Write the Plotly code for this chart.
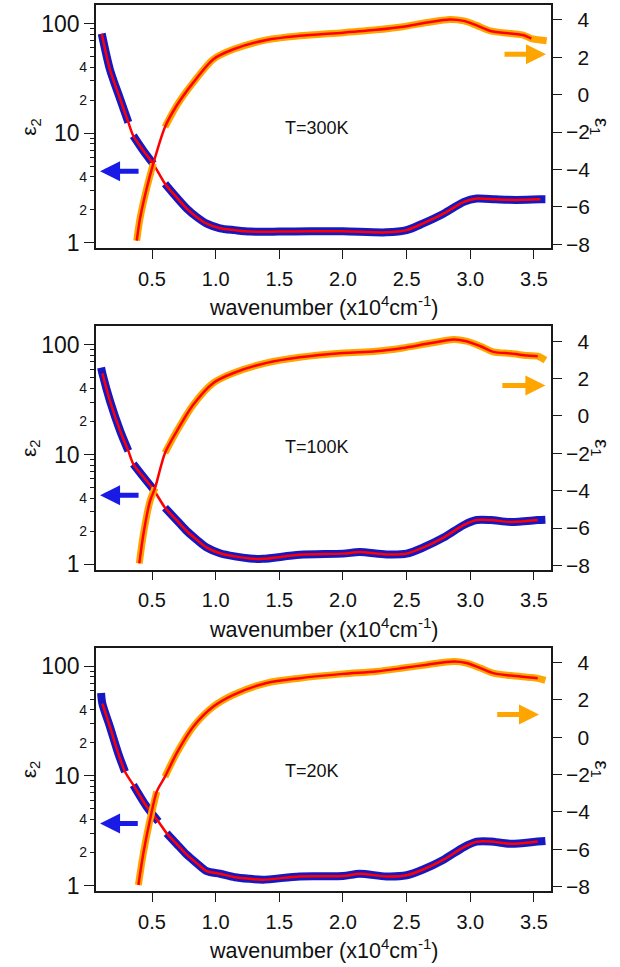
import math
import plotly.graph_objects as go

# ---------------------------------------------------------------------------
# Optical spectra: eps2 (left, log) and eps1 (right, linear) vs wavenumber
# wavenumber in units of 10^4 cm^-1
# ---------------------------------------------------------------------------

# T = 300 K
WN_E2_300 = [0.105, 0.17, 0.25, 0.314, 0.353, 0.43, 0.51, 0.602, 0.69, 0.773, 0.85, 0.93,
             1.034, 1.15, 1.27, 1.5, 1.74, 2.0, 2.34, 2.5, 2.63, 2.79, 2.95, 3.05, 3.2,
             3.36, 3.55, 3.59]
E2_300 = [81, 38, 20.5, 12.6, 9.5, 7.0, 5.27, 3.47, 2.63, 2.06, 1.73, 1.5,
          1.36, 1.31, 1.27, 1.27, 1.28, 1.28, 1.25, 1.31, 1.51, 1.85, 2.37, 2.54, 2.5,
          2.47, 2.5, 2.5]
WN_E1_300 = [0.38, 0.406, 0.458, 0.51, 0.602, 0.694, 0.825, 0.982, 1.14, 1.40, 1.66, 2.0,
             2.26, 2.47, 2.66, 2.84, 2.95, 3.05, 3.16, 3.32, 3.42, 3.48, 3.57, 3.6]
E1_300 = [-7.81, -6.62, -5.02, -3.69, -1.73, -0.58, 0.66, 1.90, 2.43, 2.93, 3.15, 3.32,
          3.47, 3.64, 3.86, 4.03, 3.95, 3.71, 3.41, 3.27, 3.18, 3.0, 2.91, 2.88]

# T = 100 K
WN_E2_100 = [0.10, 0.11, 0.17, 0.25, 0.314, 0.353, 0.43, 0.51, 0.602, 0.69, 0.773, 0.85,
             0.93, 1.034, 1.15, 1.27, 1.37, 1.66, 2.0, 2.13, 2.34, 2.5, 2.63, 2.79, 2.95,
             3.05, 3.16, 3.32, 3.53, 3.59]
E2_100 = [62, 55, 30.8, 16.4, 10.8, 8.2, 6.3, 4.83, 3.28, 2.55, 2.01, 1.68,
          1.42, 1.26, 1.18, 1.13, 1.12, 1.22, 1.25, 1.29, 1.23, 1.25, 1.42, 1.75, 2.28,
          2.53, 2.53, 2.43, 2.53, 2.55]
WN_E1_100 = [0.40, 0.432, 0.484, 0.524, 0.602, 0.694, 0.825, 0.982, 1.14, 1.40, 1.66, 2.0,
             2.26, 2.47, 2.66, 2.87, 2.97, 3.08, 3.18, 3.32, 3.45, 3.53, 3.59]
E1_100 = [-7.89, -6.34, -4.56, -3.85, -1.98, -0.82, 0.61, 1.77, 2.30, 2.84, 3.14, 3.37,
          3.46, 3.64, 3.86, 4.09, 4.0, 3.73, 3.43, 3.34, 3.23, 3.2, 2.98]

# T = 20 K
WN_E2_20 = [0.10, 0.11, 0.17, 0.235, 0.288, 0.353, 0.458, 0.55, 0.615, 0.69, 0.773, 0.85,
            0.93, 1.034, 1.15, 1.27, 1.37, 1.66, 2.0, 2.13, 2.34, 2.5, 2.63, 2.79, 2.95,
            3.05, 3.16, 3.32, 3.53, 3.59]
E2_20 = [57, 45.5, 27.9, 16.0, 10.9, 8.26, 5.24, 3.83, 3.0, 2.42, 1.91, 1.6,
         1.35, 1.28, 1.19, 1.15, 1.13, 1.21, 1.22, 1.28, 1.21, 1.24, 1.40, 1.72, 2.24,
         2.51, 2.52, 2.40, 2.52, 2.55]
WN_E1_20 = [0.393, 0.432, 0.484, 0.537, 0.602, 0.694, 0.825, 0.982, 1.14, 1.40, 1.66, 2.0,
            2.26, 2.47, 2.66, 2.87, 2.97, 3.08, 3.18, 3.32, 3.47, 3.53, 3.59]
E1_20 = [-7.91, -6.21, -4.43, -2.91, -2.11, -0.85, 0.57, 1.64, 2.27, 2.90, 3.16, 3.39,
         3.52, 3.70, 3.88, 4.05, 3.97, 3.70, 3.43, 3.30, 3.20, 3.15, 3.04]

TEMPS = ["T=300K", "T=100K", "T=20K"]

# tick labels
X_TICKS = [0.5, 1.0, 1.5, 2.0, 2.5, 3.0, 3.5]
E2_MAJOR = [1, 10, 100]
E2_MINOR = [2, 3, 4, 5, 6, 7, 8, 9, 20, 30, 40, 50, 60, 70, 80, 90]
E2_MINOR_LABELLED = [2, 4, 20, 40]
E2_MINOR_TEXT = ["2", "4", "2", "4"]
E1_TICKS = [-8, -6, -4, -2, 0, 2, 4]

# ---------------------------------------------------------------------------
# per-panel drawing settings (windows without measured data, fit limits,
# arrow placement)
# ---------------------------------------------------------------------------
PANELS = [
    dict(wn2=WN_E2_300, e2=E2_300, wn1=WN_E1_300, e1=E1_300,
         gaps2=[(0.314, 0.353), (0.51, 0.602)], gaps1=[(0.51, 0.602)],
         fit2=(0.0, 3.56), fit1=(0.0, 3.49),
         arr2=(0.092, 0.406, 4.52), arr1=(3.595, 3.257, 2.17),
         label=(0.411, 0.8615), xtitle_y=0.6599),
    dict(wn2=WN_E2_100, e2=E2_100, wn1=WN_E1_100, e1=E1_100,
         gaps2=[(0.314, 0.353), (0.51, 0.602)], gaps1=[(0.524, 0.602)],
         fit2=(0.105, 3.54), fit1=(0.0, 3.54),
         arr2=(0.092, 0.406, 4.26), arr1=(3.59, 3.24, 1.63),
         label=(0.411, 0.501), xtitle_y=0.2973),
    dict(wn2=WN_E2_20, e2=E2_20, wn1=WN_E1_20, e1=E1_20,
         gaps2=[(0.288, 0.353), (0.55, 0.615)], gaps1=[(0.537, 0.602)],
         fit2=(0.105, 3.54), fit1=(0.0, 3.54),
         arr2=(0.092, 0.40, 3.67), arr1=(3.54, 3.20, 1.21),
         label=(0.411, 0.136), xtitle_y=-0.0653),
]

DOMAINS = [[0.7252, 1.0], [0.3626, 0.6374], [0.0, 0.2748]]
E2_RANGE = [-0.05, 2.17]
E1_RANGE = [-8.23, 4.8]
X_RANGE = [0.06, 3.634]

BLUE = "#1818c0"
ARROW_BLUE = "#1a1ae6"
ORANGE = "#ffa500"
RED = "#ff0000"
FONT = "Liberation Sans, Arial, sans-serif"
AXCOL = "#1a1a1a"
TXT = "#111111"


def with_gaps(x, y, gaps):
    xs, ys = [], []
    for i in range(len(x)):
        if i > 0:
            mid = 0.5 * (x[i - 1] + x[i])
            if any(a < mid < b for a, b in gaps):
                xs.append(None)
                ys.append(None)
        xs.append(x[i])
        ys.append(y[i])
    return xs, ys


def clip(x, y, lim):
    lo, hi = lim
    pts = [(a, b) for a, b in zip(x, y) if lo <= a <= hi]
    return [p[0] for p in pts], [p[1] for p in pts]


fig = go.Figure()
annotations = []
layout_axes = {}

for i, p in enumerate(PANELS):
    xa = "x" if i == 0 else f"x{i + 1}"
    yl = "y" if i == 0 else f"y{2 * i + 1}"
    yr = f"y{2 * i + 2}"
    ymin_t = f"y{7 + i}"      # minor ticks of the log axis
    ymin_l = f"y{10 + i}"     # labels of the minor ticks

    bx, by = with_gaps(p["wn2"], p["e2"], p["gaps2"])
    fig.add_trace(go.Scatter(x=bx, y=by, xaxis=xa, yaxis=yl, mode="lines",
                             line=dict(color=BLUE, width=8, shape="spline", smoothing=0.8),
                             connectgaps=False, showlegend=False, hoverinfo="skip"))
    fx, fy = clip(p["wn2"], p["e2"], p["fit2"])
    fig.add_trace(go.Scatter(x=fx, y=fy, xaxis=xa, yaxis=yl, mode="lines",
                             line=dict(color=RED, width=2.5, shape="spline", smoothing=0.8),
                             showlegend=False, hoverinfo="skip"))

    ox, oy = with_gaps(p["wn1"], p["e1"], p["gaps1"])
    fig.add_trace(go.Scatter(x=ox, y=oy, xaxis=xa, yaxis=yr, mode="lines",
                             line=dict(color=ORANGE, width=7, shape="spline", smoothing=0.8),
                             connectgaps=False, showlegend=False, hoverinfo="skip"))
    gx, gy = clip(p["wn1"], p["e1"], p["fit1"])
    fig.add_trace(go.Scatter(x=gx, y=gy, xaxis=xa, yaxis=yr, mode="lines",
                             line=dict(color=RED, width=2.5, shape="spline", smoothing=0.8),
                             showlegend=False, hoverinfo="skip"))

    # hidden copies so that the helper log axes are laid out
    for ya in (ymin_t, ymin_l):
        fig.add_trace(go.Scatter(x=p["wn2"], y=p["e2"], xaxis=xa, yaxis=ya, mode="lines",
                                 line=dict(width=0), opacity=0,
                                 showlegend=False, hoverinfo="skip"))

    dom = DOMAINS[i]
    sfx = "" if i == 0 else str(i + 1)
    ylk = "yaxis" if i == 0 else f"yaxis{2 * i + 1}"

    layout_axes[f"xaxis{sfx}"] = dict(
        domain=[0, 1], anchor=yl, range=X_RANGE,
        tickvals=X_TICKS, ticktext=[f"{v:.1f}" for v in X_TICKS],
        ticks="outside", ticklen=9, tickwidth=1.3, tickcolor=AXCOL,
        showline=True, linecolor=AXCOL, linewidth=1.5, mirror=True,
        showgrid=False, zeroline=False, ticklabelstandoff=3,
        tickfont=dict(family=FONT, size=20, color=TXT),
    )
    layout_axes[ylk] = dict(
        domain=dom, anchor=xa, type="log", range=E2_RANGE,
        tickvals=E2_MAJOR, ticktext=[str(v) for v in E2_MAJOR],
        ticks="outside", ticklen=10, tickwidth=1.3, tickcolor=AXCOL,
        showline=True, linecolor=AXCOL, linewidth=1.5,
        showgrid=False, zeroline=False, ticklabelstandoff=0,
        tickfont=dict(family=FONT, size=23, color=TXT),
    )
    layout_axes[f"yaxis{7 + i}"] = dict(
        domain=dom, anchor=xa, overlaying=yl, side="left", type="log", range=E2_RANGE,
        tickvals=E2_MINOR, showticklabels=False,
        ticks="outside", ticklen=5, tickwidth=1.2, tickcolor=AXCOL,
        showline=False, showgrid=False, zeroline=False,
    )
    layout_axes[f"yaxis{10 + i}"] = dict(
        domain=dom, anchor=xa, overlaying=yl, side="left", type="log", range=E2_RANGE,
        tickvals=E2_MINOR_LABELLED, ticktext=E2_MINOR_TEXT,
        ticks="", showline=False, showgrid=False, zeroline=False,
        ticklabelstandoff=8,
        tickfont=dict(family=FONT, size=14, color=TXT),
    )
    layout_axes[f"yaxis{2 * i + 2}"] = dict(
        domain=dom, anchor=xa, overlaying=yl, side="right", range=E1_RANGE,
        tickvals=E1_TICKS,
        ticktext=[("\u2212" + str(-v)) if v < 0 else ("\u2007" + str(v)) for v in E1_TICKS],
        ticks="outside", ticklen=9, tickwidth=1.3, tickcolor=AXCOL,
        showline=True, linecolor=AXCOL, linewidth=1.5,
        showgrid=False, zeroline=False,
        tickfont=dict(family=FONT, size=21, color=TXT),
    )

    # axis titles
    ymid = 0.5 * (dom[0] + dom[1])
    annotations.append(dict(xref="paper", yref="paper", x=-0.145, y=ymid,
                            xanchor="center", yanchor="middle",
                            text="\u03b5<sub>2</sub>", textangle=-90, showarrow=False,
                            font=dict(family=FONT, size=21, color=TXT)))
    annotations.append(dict(xref="paper", yref="paper", x=1.11, y=ymid,
                            xanchor="center", yanchor="middle",
                            text="\u03b5<sub>1</sub>", textangle=90, showarrow=False,
                            font=dict(family=FONT, size=21, color=TXT)))
    annotations.append(dict(xref="paper", yref="paper", x=0.5, y=p["xtitle_y"],
                            xanchor="center", yanchor="middle",
                            text="wavenumber (x10<sup>4</sup>cm<sup>-1</sup>)",
                            showarrow=False, font=dict(family=FONT, size=21.5, color=TXT)))
    # temperature label
    lx, ly = p["label"]
    annotations.append(dict(xref="paper", yref="paper", x=lx, y=ly,
                            xanchor="left", yanchor="middle",
                            text=TEMPS[i], showarrow=False,
                            font=dict(family=FONT, size=18, color=TXT)))
    # arrows pointing toward the axis each curve belongs to
    hx, tx, yv = p["arr2"]
    annotations.append(dict(xref=xa, yref=yl, axref=xa, ayref=yl,
                            x=hx, y=math.log10(yv), ax=tx, ay=math.log10(yv),
                            showarrow=True, arrowhead=2, arrowsize=0.8, arrowwidth=5,
                            arrowcolor=ARROW_BLUE, text=""))
    hx, tx, yv = p["arr1"]
    annotations.append(dict(xref=xa, yref=yr, axref=xa, ayref=yr,
                            x=hx, y=yv, ax=tx, ay=yv,
                            showarrow=True, arrowhead=2, arrowsize=0.8, arrowwidth=5,
                            arrowcolor=ORANGE, text=""))

fig.update_layout(**layout_axes)
fig.update_layout(
    width=620, height=967,
    margin=dict(l=96, r=69, t=3, b=76),
    paper_bgcolor="white", plot_bgcolor="white",
    annotations=annotations,
    showlegend=False,
)

fig.write_html("out.html")
